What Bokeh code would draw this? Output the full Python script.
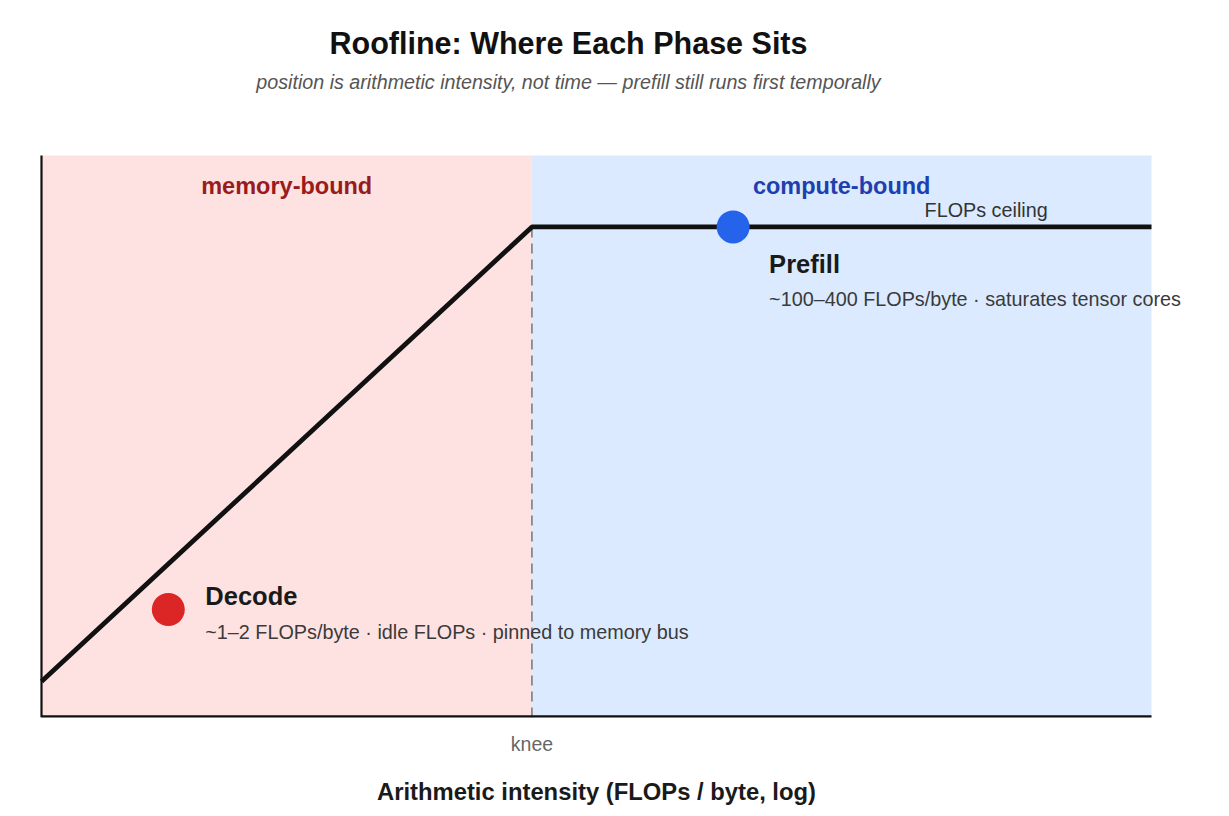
import numpy as np
from bokeh.plotting import figure
from bokeh.models import Label, BoxAnnotation, FixedTicker, Range1d
from bokeh.embed import file_html
from bokeh.resources import INLINE

# ---- data ----
x_range_vals = [0.5, 7500.0]          # FLOPs/byte (log axis)
y_range_vals = [10.2, 1950.0]         # attainable FLOP/s (arbitrary, log)
knee_ai = [35.0]
peak_flops = [1000.0]
phase_names = ["Decode", "Prefill"]
phase_ai = [1.5, 200.0]
phase_perf = [28.0, 1000.0]
phase_desc = ["~1\u20132 FLOPs/byte \u00b7 idle FLOPs \u00b7 pinned to memory bus",
              "~100\u2013400 FLOPs/byte \u00b7 saturates tensor cores"]
phase_colors = ["#dc2626", "#2563eb"]
region_names = ["memory-bound", "compute-bound"]
region_colors = ["#991b1b", "#1e40af"]
tick_labels = {35: "knee"}
ceiling_label_ai = [1790.0]

title_text = "Roofline: Where Each Phase Sits"
subtitle_text = "position is arithmetic intensity, not time \u2014 prefill still runs first temporally"

FONT = "Liberation Sans"
knee = knee_ai[0]
peak = peak_flops[0]
bw = peak / knee

# ---- layout (pixels) ----
PLOT_W, PLOT_H = 1110, 562       # size of the chart area proper
PAD_X = 40                       # extra frame on each side (room for overflowing text)
PAD_TOP = 154                    # extra frame above (room for titles)

lx0, lx1 = np.log10(x_range_vals)
ly0, ly1 = np.log10(y_range_vals)
ppd_x = PLOT_W / (lx1 - lx0)
ppd_y = PLOT_H / (ly1 - ly0)
view_x = (10 ** (lx0 - PAD_X / ppd_x), 10 ** (lx1 + PAD_X / ppd_x))
view_y = (y_range_vals[0], 10 ** (ly1 + PAD_TOP / ppd_y))

p = figure(frame_width=PLOT_W + 2 * PAD_X, frame_height=PLOT_H + PAD_TOP,
           x_axis_type="log", y_axis_type="log",
           x_range=Range1d(*view_x), y_range=Range1d(*view_y),
           output_backend="svg", toolbar_location=None, title=None,
           min_border_left=1, min_border_right=19, min_border_top=1, min_border_bottom=0)
p.background_fill_color = "white"
p.border_fill_color = "white"
p.outline_line_color = None
p.grid.visible = False

# titles
p.add_layout(Label(x=x_range_vals[0], y=y_range_vals[1], x_offset=527, y_offset=113,
                   text=title_text, text_font=FONT, text_font_style="bold",
                   text_font_size="30.5px", text_color="#111111",
                   text_align="center", text_baseline="middle"))
p.add_layout(Label(x=x_range_vals[0], y=y_range_vals[1], x_offset=527, y_offset=74,
                   text=subtitle_text, text_font=FONT, text_font_style="italic",
                   text_font_size="19.7px", text_color="#555555",
                   text_align="center", text_baseline="middle"))

# shaded regions
p.add_layout(BoxAnnotation(left=x_range_vals[0], right=knee, top=y_range_vals[1],
                           fill_color="#fee2e2", fill_alpha=1.0, line_color=None, level="underlay"))
p.add_layout(BoxAnnotation(left=knee, right=x_range_vals[1], top=y_range_vals[1],
                           fill_color="#dbeafe", fill_alpha=1.0, line_color=None, level="underlay"))

# knee dashed line
p.segment(x0=[knee], y0=[y_range_vals[0]], x1=[knee], y1=[peak], line_color="#8a8a8a",
          line_width=1.8, line_dash="10 6")

# roofline
roof_x = np.array([x_range_vals[0], knee, x_range_vals[1]])
roof_y = np.minimum(bw * roof_x, peak)
p.line(roof_x, roof_y, line_color="#111111", line_width=4.8)

# axis lines (left and bottom) over the chart area only
p.segment(x0=[x_range_vals[0]], y0=[y_range_vals[0]], x1=[x_range_vals[0]], y1=[y_range_vals[1]],
          line_color="#111111", line_width=2.2)
p.segment(x0=[x_range_vals[0]], y0=[y_range_vals[0]], x1=[x_range_vals[1]], y1=[y_range_vals[0]],
          line_color="#111111", line_width=4.4)

# phases
p.scatter(phase_ai, phase_perf, size=33, fill_color=phase_colors, line_color=None)

offsets = [(37, 13, -23), (36, -37, -72)]
for name, ai, perf, desc, (dx, dy1, dy2) in zip(phase_names, phase_ai, phase_perf, phase_desc, offsets):
    p.add_layout(Label(x=ai, y=perf, x_offset=dx, y_offset=dy1, text=name, text_font=FONT,
                       text_font_style="bold", text_font_size="25.5px", text_color="#1a1a1a",
                       text_baseline="middle"))
    p.add_layout(Label(x=ai, y=perf, x_offset=dx, y_offset=dy2, text=desc, text_font=FONT,
                       text_font_size="19.8px", text_color="#3a3a3a", text_baseline="middle"))

# region labels
lx = [np.sqrt(x_range_vals[0] * knee), np.sqrt(knee * x_range_vals[1])]
for name, col, xx in zip(region_names, region_colors, lx):
    p.add_layout(Label(x=xx, y=y_range_vals[1], y_offset=-30, text=name, text_font=FONT,
                       text_font_style="bold", text_font_size="23.5px", text_color=col,
                       text_align="center", text_baseline="middle"))

p.add_layout(Label(x=ceiling_label_ai[0], y=peak, y_offset=17, text="FLOPs ceiling", text_font=FONT,
                   text_font_size="19.8px", text_color="#333333", text_align="center",
                   text_baseline="middle"))

# axes
p.yaxis.visible = False
xa = p.xaxis[0]
xa.ticker = FixedTicker(ticks=list(tick_labels.keys()), minor_ticks=[])
xa.major_label_overrides = tick_labels
xa.major_tick_line_color = None
xa.minor_tick_line_color = None
xa.axis_line_color = None
xa.major_label_text_font = FONT
xa.major_label_text_font_size = "19.5px"
xa.major_label_text_color = "#666666"
xa.major_label_standoff = 9
xa.axis_label = "Arithmetic intensity (FLOPs / byte, log)"
xa.axis_label_text_font = FONT
xa.axis_label_text_font_style = "bold"
xa.axis_label_text_font_size = "23.8px"
xa.axis_label_text_color = "#1a1a1a"
xa.axis_label_standoff = 20

open("out.html", "w").write(file_html(p, INLINE))
